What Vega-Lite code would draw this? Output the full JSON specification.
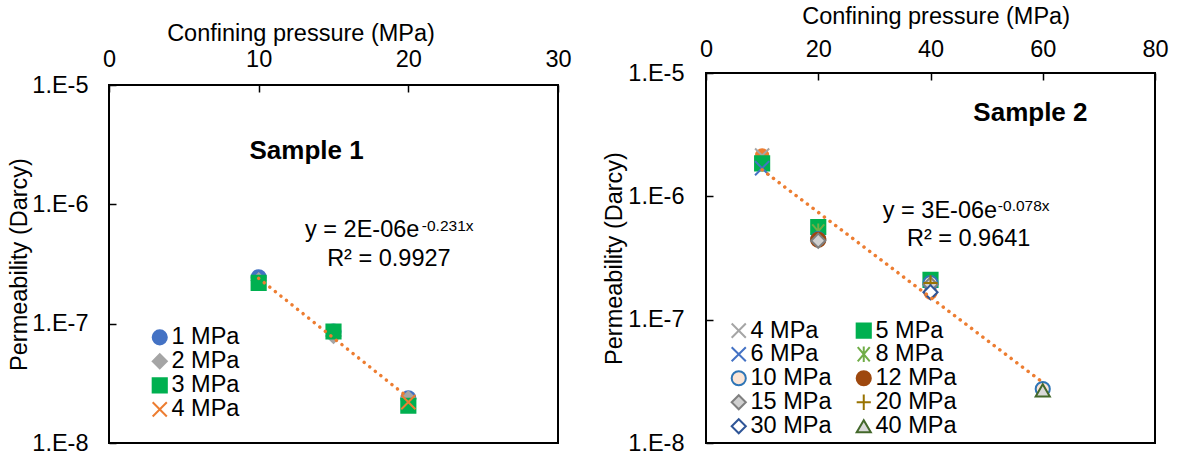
{
  "$schema": "https://vega.github.io/schema/vega-lite/v6.json",
  "padding": {"left": 6, "top": 0, "right": 0, "bottom": 0},
  "background": "white",
  "datasets": {
    "pts1": [
      {"series": "1 MPa", "cp": 10, "perm": 2.45e-7},
      {"series": "1 MPa", "cp": 15, "perm": 8.6e-8},
      {"series": "1 MPa", "cp": 20, "perm": 2.37e-8},
      {"series": "2 MPa", "cp": 10, "perm": 2.3e-7},
      {"series": "2 MPa", "cp": 15, "perm": 7.9e-8},
      {"series": "2 MPa", "cp": 20, "perm": 2.35e-8},
      {"series": "3 MPa", "cp": 10, "perm": 2.2e-7},
      {"series": "3 MPa", "cp": 15, "perm": 8.6e-8},
      {"series": "3 MPa", "cp": 20, "perm": 2.05e-8},
      {"series": "4 MPa", "cp": 20, "perm": 2.2e-8}
    ],
    "trend1": [
      {"cp": 10, "perm": 2.4e-7},
      {"cp": 20, "perm": 2.4e-8}
    ],
    "note1": [
      {"role": "title", "cp": 13.2, "perm": 2.81e-6, "label": "Sample 1"},
      {"role": "eq", "cp": 13.1, "perm": 5.32e-7, "label": "y = 2E-06e"},
      {"role": "sup", "cp": 20.9, "perm": 5.97e-7, "label": "-0.231x"},
      {"role": "r2", "cp": 18.7, "perm": 3.07e-7, "label": "R² = 0.9927"}
    ],
    "extra2": [
      {"cp": 10, "perm": 2.15e-6},
      {"cp": 20, "perm": 4.5e-7},
      {"cp": 40, "perm": 1.65e-7},
      {"cp": 60, "perm": 2.72e-8}
    ],
    "pts2": [
      {"series": "4 MPa", "cp": 10, "perm": 2.14e-6},
      {"series": "5 MPa", "cp": 10, "perm": 1.85e-6},
      {"series": "5 MPa", "cp": 20, "perm": 5.64e-7},
      {"series": "5 MPa", "cp": 40, "perm": 2.1e-7},
      {"series": "6 MPa", "cp": 10, "perm": 1.69e-6},
      {"series": "8 MPa", "cp": 20, "perm": 5.2e-7},
      {"series": "10 MPa", "cp": 20, "perm": 4.5e-7},
      {"series": "10 MPa", "cp": 40, "perm": 1.98e-7},
      {"series": "10 MPa", "cp": 60, "perm": 2.74e-8},
      {"series": "12 MPa", "cp": 20, "perm": 4.45e-7},
      {"series": "15 MPa", "cp": 20, "perm": 4.37e-7},
      {"series": "15 MPa", "cp": 40, "perm": 1.93e-7},
      {"series": "20 MPa", "cp": 40, "perm": 1.98e-7},
      {"series": "30 MPa", "cp": 40, "perm": 1.67e-7},
      {"series": "40 MPa", "cp": 60, "perm": 2.67e-8}
    ],
    "trend2": [
      {"cp": 10, "perm": 1.64e-6},
      {"cp": 60, "perm": 3.1e-8}
    ],
    "note2": [
      {"role": "title", "cp": 57.8, "perm": 4.72e-6, "label": "Sample 2"},
      {"role": "eq", "cp": 31.5, "perm": 6.64e-7, "label": "y = 3E-06e"},
      {"role": "sup", "cp": 52.0, "perm": 7.64e-7, "label": "-0.078x"},
      {"role": "r2", "cp": 46.8, "perm": 3.98e-7, "label": "R² = 0.9641"}
    ]
  },
  "config": {
    "font": "Liberation Sans",
    "view": {"stroke": "black", "strokeWidth": 2},
    "axis": {
      "domain": false,
      "grid": false,
      "labelFlush": false,
      "labelFont": "Liberation Sans",
      "labelFontSize": 23.5,
      "labelColor": "black",
      "titleFont": "Liberation Sans",
      "titleFontSize": 23.5,
      "titleFontWeight": "normal",
      "titleColor": "black",
      "tickColor": "black",
      "tickSize": -7,
      "tickWidth": 1.5
    },
    "legend": {
      "labelFont": "Liberation Sans",
      "labelFontSize": 23.5,
      "labelColor": "black",
      "symbolSize": 200,
      "symbolStrokeWidth": 2,
      "rowPadding": -1,
      "padding": 0,
      "labelOffset": 0,
      "titlePadding": 0
    },
    "text": {"font": "Liberation Sans", "color": "black"}
  },
  "spacing": 28,
  "resolve": {
    "scale": {"x": "independent", "y": "independent", "shape": "independent", "fill": "independent", "stroke": "independent"},
    "legend": {"shape": "independent", "fill": "independent", "stroke": "independent"}
  },
  "hconcat": [
    {
      "spacing": 0,
      "vconcat": [
        {
          "width": 449,
          "height": 20,
          "data": {"values": []},
          "mark": "point",
          "view": {"stroke": null}
        },
        {
          "width": 449,
          "height": 358,
          "layer": [
            {
              "data": {"name": "pts1"},
              "mark": {"type": "point", "size": 200, "strokeWidth": 2, "opacity": 1},
              "encoding": {
                "x": {
                  "field": "cp", "type": "quantitative",
                  "scale": {"domain": [0, 30], "nice": false, "zero": false},
                  "axis": {"orient": "top", "values": [0, 10, 20, 30], "title": "Confining pressure (MPa)", "labelPadding": 21, "titlePadding": 2, "titleX": 191.5}
                },
                "y": {
                  "field": "perm", "type": "quantitative",
                  "scale": {"type": "log", "domain": [1e-8, 1e-5], "nice": false},
                  "axis": {"values": [1e-8, 1e-7, 1e-6, 1e-5], "labelExpr": "'1.E' + round(log(datum.value) / LN10)", "title": "Permeability (Darcy)", "labelPadding": 28, "titlePadding": 0}
                },
                "shape": {
                  "field": "series", "type": "nominal",
                  "scale": {"domain": ["1 MPa", "2 MPa", "3 MPa", "4 MPa"], "range": ["circle", "diamond", "square", "M-1,-1L1,1M-1,1L1,-1"]},
                  "legend": {"orient": "none", "legendX": 39, "legendY": 325.6, "title": null}
                },
                "fill": {
                  "field": "series", "type": "nominal",
                  "scale": {"domain": ["1 MPa", "2 MPa", "3 MPa", "4 MPa"], "range": ["#4472C4", "#A5A5A5", "#00B050", "transparent"]},
                  "legend": {"orient": "none", "legendX": 39, "legendY": 325.6, "title": null}
                },
                "stroke": {
                  "field": "series", "type": "nominal",
                  "scale": {"domain": ["1 MPa", "2 MPa", "3 MPa", "4 MPa"], "range": ["#4472C4", "#A5A5A5", "#00B050", "#ED7D31"]},
                  "legend": {"orient": "none", "legendX": 39, "legendY": 325.6, "title": null}
                }
              }
            },
            {
              "data": {"name": "trend1"},
              "mark": {"type": "line", "color": "#ED7D31", "strokeWidth": 3.5, "strokeDash": [0.1, 7], "strokeCap": "round"},
              "encoding": {
                "x": {"field": "cp", "type": "quantitative"},
                "y": {"field": "perm", "type": "quantitative"}
              }
            },
            {
              "data": {"name": "note1"},
              "transform": [{"filter": "datum.role === 'title'"}],
              "mark": {"type": "text", "fontSize": 26, "fontWeight": "bold", "align": "center", "baseline": "middle"},
              "encoding": {
                "x": {"field": "cp", "type": "quantitative"},
                "y": {"field": "perm", "type": "quantitative"},
                "text": {"field": "label"}
              }
            },
            {
              "data": {"name": "note1"},
              "transform": [{"filter": "datum.role === 'eq'"}],
              "mark": {"type": "text", "fontSize": 23.5, "align": "left", "baseline": "alphabetic"},
              "encoding": {
                "x": {"field": "cp", "type": "quantitative"},
                "y": {"field": "perm", "type": "quantitative"},
                "text": {"field": "label"}
              }
            },
            {
              "data": {"name": "note1"},
              "transform": [{"filter": "datum.role === 'sup'"}],
              "mark": {"type": "text", "fontSize": 15.5, "align": "left", "baseline": "alphabetic"},
              "encoding": {
                "x": {"field": "cp", "type": "quantitative"},
                "y": {"field": "perm", "type": "quantitative"},
                "text": {"field": "label"}
              }
            },
            {
              "data": {"name": "note1"},
              "transform": [{"filter": "datum.role === 'r2'"}],
              "mark": {"type": "text", "fontSize": 23.5, "align": "center", "baseline": "alphabetic"},
              "encoding": {
                "x": {"field": "cp", "type": "quantitative"},
                "y": {"field": "perm", "type": "quantitative"},
                "text": {"field": "label"}
              }
            }
          ]
        }
      ]
    },
    {
      "spacing": 0,
      "vconcat": [
        {
          "width": 449,
          "height": 3,
          "data": {"values": []},
          "mark": "point",
          "view": {"stroke": null}
        },
        {
          "width": 449,
          "height": 370,
          "layer": [
            {
              "data": {"name": "extra2"},
              "mark": {"type": "point", "shape": "circle", "size": 200, "filled": true, "color": "#ED7D31", "opacity": 1},
              "encoding": {
                "x": {
                  "field": "cp", "type": "quantitative",
                  "scale": {"domain": [0, 80], "nice": false, "zero": false},
                  "axis": {"orient": "top", "values": [0, 20, 40, 60, 80], "title": "Confining pressure (MPa)", "labelPadding": 19, "titlePadding": 9, "titleX": 229.6}
                },
                "y": {
                  "field": "perm", "type": "quantitative",
                  "scale": {"type": "log", "domain": [1e-8, 1e-5], "nice": false},
                  "axis": {"values": [1e-8, 1e-7, 1e-6, 1e-5], "labelExpr": "'1.E' + round(log(datum.value) / LN10)", "title": "Permeability (Darcy)", "labelPadding": 29, "titlePadding": 1}
                }
              }
            },
            {
              "data": {"name": "pts2"},
              "mark": {"type": "point", "size": 200, "strokeWidth": 2, "opacity": 1},
              "encoding": {
                "x": {"field": "cp", "type": "quantitative"},
                "y": {"field": "perm", "type": "quantitative"},
                "shape": {
                  "field": "series", "type": "nominal",
                  "scale": {
                    "domain": ["4 MPa", "6 MPa", "10 MPa", "15 MPa", "30 MPa", "5 MPa", "8 MPa", "12 MPa", "20 MPa", "40 MPa"],
                    "range": ["M-1,-1L1,1M-1,1L1,-1", "M-1,-1L1,1M-1,1L1,-1", "circle", "diamond", "diamond", "square", "M-0.85,-1L0.85,1M-0.85,1L0.85,-1M0,-1.1L0,1.1", "circle", "M-1,0L1,0M0,-1.1L0,1.1", "triangle-up"]
                  },
                  "legend": {"orient": "none", "legendX": 21, "legendY": 318.5, "title": null, "columns": 2, "columnPadding": 20}
                },
                "fill": {
                  "field": "series", "type": "nominal",
                  "scale": {
                    "domain": ["4 MPa", "6 MPa", "10 MPa", "15 MPa", "30 MPa", "5 MPa", "8 MPa", "12 MPa", "20 MPa", "40 MPa"],
                    "range": ["transparent", "transparent", "#FBE5D6", "#D0D0D0", "#FFFFFF", "#00B050", "transparent", "#9E480E", "transparent", "#D9D9D9"]
                  },
                  "legend": {"orient": "none", "legendX": 21, "legendY": 318.5, "title": null, "columns": 2, "columnPadding": 20}
                },
                "stroke": {
                  "field": "series", "type": "nominal",
                  "scale": {
                    "domain": ["4 MPa", "6 MPa", "10 MPa", "15 MPa", "30 MPa", "5 MPa", "8 MPa", "12 MPa", "20 MPa", "40 MPa"],
                    "range": ["#A5A5A5", "#4472C4", "#2E75B6", "#7F7F7F", "#2F5597", "#00B050", "#70AD47", "#9E480E", "#997300", "#43682B"]
                  },
                  "legend": {"orient": "none", "legendX": 21, "legendY": 318.5, "title": null, "columns": 2, "columnPadding": 20}
                }
              }
            },
            {
              "data": {"name": "trend2"},
              "mark": {"type": "line", "color": "#ED7D31", "strokeWidth": 3.5, "strokeDash": [0.1, 7], "strokeCap": "round"},
              "encoding": {
                "x": {"field": "cp", "type": "quantitative"},
                "y": {"field": "perm", "type": "quantitative"}
              }
            },
            {
              "data": {"name": "note2"},
              "transform": [{"filter": "datum.role === 'title'"}],
              "mark": {"type": "text", "fontSize": 26, "fontWeight": "bold", "align": "center", "baseline": "middle"},
              "encoding": {
                "x": {"field": "cp", "type": "quantitative"},
                "y": {"field": "perm", "type": "quantitative"},
                "text": {"field": "label"}
              }
            },
            {
              "data": {"name": "note2"},
              "transform": [{"filter": "datum.role === 'eq'"}],
              "mark": {"type": "text", "fontSize": 23.5, "align": "left", "baseline": "alphabetic"},
              "encoding": {
                "x": {"field": "cp", "type": "quantitative"},
                "y": {"field": "perm", "type": "quantitative"},
                "text": {"field": "label"}
              }
            },
            {
              "data": {"name": "note2"},
              "transform": [{"filter": "datum.role === 'sup'"}],
              "mark": {"type": "text", "fontSize": 15.5, "align": "left", "baseline": "alphabetic"},
              "encoding": {
                "x": {"field": "cp", "type": "quantitative"},
                "y": {"field": "perm", "type": "quantitative"},
                "text": {"field": "label"}
              }
            },
            {
              "data": {"name": "note2"},
              "transform": [{"filter": "datum.role === 'r2'"}],
              "mark": {"type": "text", "fontSize": 23.5, "align": "center", "baseline": "alphabetic"},
              "encoding": {
                "x": {"field": "cp", "type": "quantitative"},
                "y": {"field": "perm", "type": "quantitative"},
                "text": {"field": "label"}
              }
            }
          ]
        }
      ]
    }
  ]
}
